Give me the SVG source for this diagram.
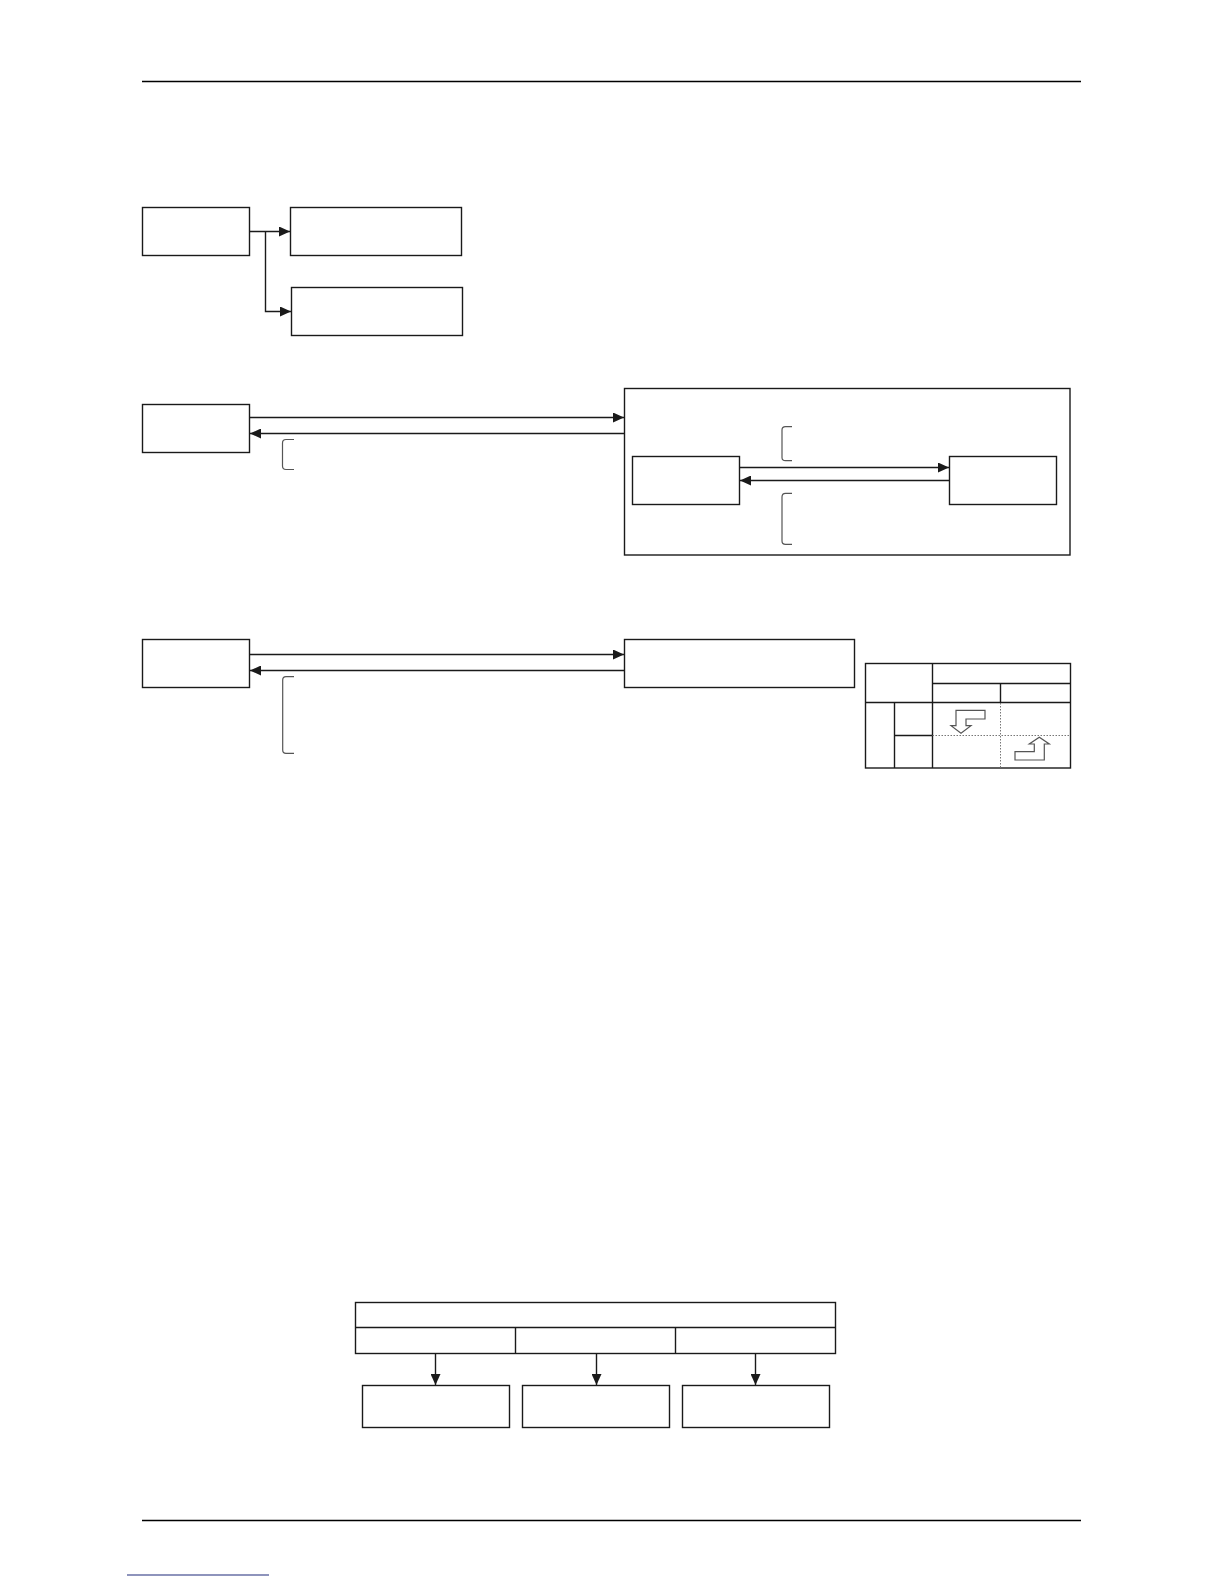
<svg xmlns="http://www.w3.org/2000/svg" width="1224" height="1584" viewBox="0 0 1224 1584">
<style>
.b{fill:#fff;stroke:#1a1a1a;stroke-width:1.4}
.l{fill:none;stroke:#1a1a1a;stroke-width:1.4}
.k{fill:none;stroke:#555;stroke-width:1.2}
.d{fill:none;stroke:#777;stroke-width:1;stroke-dasharray:1.5 1.5}
.h{fill:none;stroke:#000;stroke-width:1.6}
.ha{fill:#fff;stroke:#555;stroke-width:1.2}
</style>
<defs>
<marker id="ar" markerWidth="12" markerHeight="10" refX="11" refY="5" orient="auto" markerUnits="userSpaceOnUse">
<path d="M0,0 L11,5 L0,10 Z" fill="#1a1a1a"/>
</marker>
</defs>
<rect width="1224" height="1584" fill="#fff"/>
<g id="page-lines">
<line class="h" x1="142" y1="81.5" x2="1081" y2="81.5"/>
<line class="h" x1="142" y1="1520.5" x2="1081" y2="1520.5"/>
<line x1="127" y1="1575" x2="269" y2="1575" stroke="#1f2a7a" stroke-width="1.2"/>
</g>
<g id="nodes">
<rect id="n1" class="b" x="142.5" y="207.5" width="107" height="48"/>
<rect id="n2" class="b" x="290.5" y="207.5" width="171" height="48"/>
<rect id="n3" class="b" x="291.5" y="287.5" width="171" height="48"/>
<rect id="n4" class="b" x="142.5" y="404.5" width="107" height="48"/>
<rect id="n5" class="b" x="624.5" y="388.5" width="445.5" height="166.5"/>
<rect id="n6" class="b" x="632.5" y="456.5" width="107" height="48"/>
<rect id="n7" class="b" x="949.5" y="456.5" width="107" height="48"/>
<rect id="n8" class="b" x="142.5" y="639.5" width="107" height="48"/>
<rect id="n9" class="b" x="624.5" y="639.5" width="230" height="48"/>
<g id="n10">
<rect class="b" x="865.5" y="663.5" width="205" height="104.5"/>
<line class="l" x1="932.5" y1="663.5" x2="932.5" y2="768"/>
<line class="l" x1="932.5" y1="683.5" x2="1070.5" y2="683.5"/>
<line class="l" x1="1000.5" y1="683.5" x2="1000.5" y2="702.5"/>
<line class="l" x1="865.5" y1="702.5" x2="1070.5" y2="702.5"/>
<line class="l" x1="894.5" y1="702.5" x2="894.5" y2="768"/>
<line class="l" x1="894.5" y1="735.5" x2="932.5" y2="735.5"/>
<line class="d" x1="932.5" y1="735.5" x2="1070" y2="735.5"/>
<line class="d" x1="1000.5" y1="703" x2="1000.5" y2="767.5"/>
<path class="ha" d="M985,710.3 L956,710.3 L956,725.7 L951,725.7 L961,733.3 L971,725.7 L966,725.7 L966,719 L985,719 Z"/>
<path class="ha" d="M1015,751.7 L1034.3,751.7 L1034.3,744 L1029.3,744 L1039.3,737.3 L1049.3,744 L1044.3,744 L1044.3,760 L1015,760 Z"/>
</g>
<g id="n11">
<rect class="b" x="355.5" y="1302.5" width="480" height="51"/>
<line class="l" x1="355.5" y1="1327.5" x2="835.5" y2="1327.5"/>
<line class="l" x1="515.5" y1="1327.5" x2="515.5" y2="1353.5"/>
<line class="l" x1="675.5" y1="1327.5" x2="675.5" y2="1353.5"/>
</g>
<rect id="n12" class="b" x="362.5" y="1385.5" width="147" height="42"/>
<rect id="n13" class="b" x="522.5" y="1385.5" width="147" height="42"/>
<rect id="n14" class="b" x="682.5" y="1385.5" width="147" height="42"/>
</g>
<g id="connectors">
<line class="l" x1="249.5" y1="231.5" x2="290" y2="231.5" marker-end="url(#ar)"/>
<polyline class="l" points="265.5,231.5 265.5,311.5 291,311.5" marker-end="url(#ar)"/>
<line class="l" x1="249.5" y1="417.5" x2="624" y2="417.5" marker-end="url(#ar)"/>
<line class="l" x1="624.5" y1="433.5" x2="250" y2="433.5" marker-end="url(#ar)"/>
<line class="l" x1="739.5" y1="467.5" x2="949" y2="467.5" marker-end="url(#ar)"/>
<line class="l" x1="949.5" y1="480.5" x2="740" y2="480.5" marker-end="url(#ar)"/>
<line class="l" x1="249.5" y1="654.5" x2="624" y2="654.5" marker-end="url(#ar)"/>
<line class="l" x1="624.5" y1="670.5" x2="250" y2="670.5" marker-end="url(#ar)"/>
<line class="l" x1="435.5" y1="1353.5" x2="435.5" y2="1385" marker-end="url(#ar)"/>
<line class="l" x1="596.5" y1="1353.5" x2="596.5" y2="1385" marker-end="url(#ar)"/>
<line class="l" x1="755.5" y1="1353.5" x2="755.5" y2="1385" marker-end="url(#ar)"/>
<path class="k" d="M294,439.5 L286,439.5 Q282.5,439.5 282.5,443 L282.5,466 Q282.5,469.5 286,469.5 L294,469.5"/>
<path class="k" d="M792,426.7 L785.5,426.7 Q782,426.7 782,430 L782,457.5 Q782,460.7 785.5,460.7 L792,460.7"/>
<path class="k" d="M792,493.3 L785.5,493.3 Q782,493.3 782,497 L782,541 Q782,544.3 785.5,544.3 L792,544.3"/>
<path class="k" d="M294,676.7 L286,676.7 Q282.7,676.7 282.7,680 L282.7,750 Q282.7,753.3 286,753.3 L294,753.3"/>
</g>
</svg>
